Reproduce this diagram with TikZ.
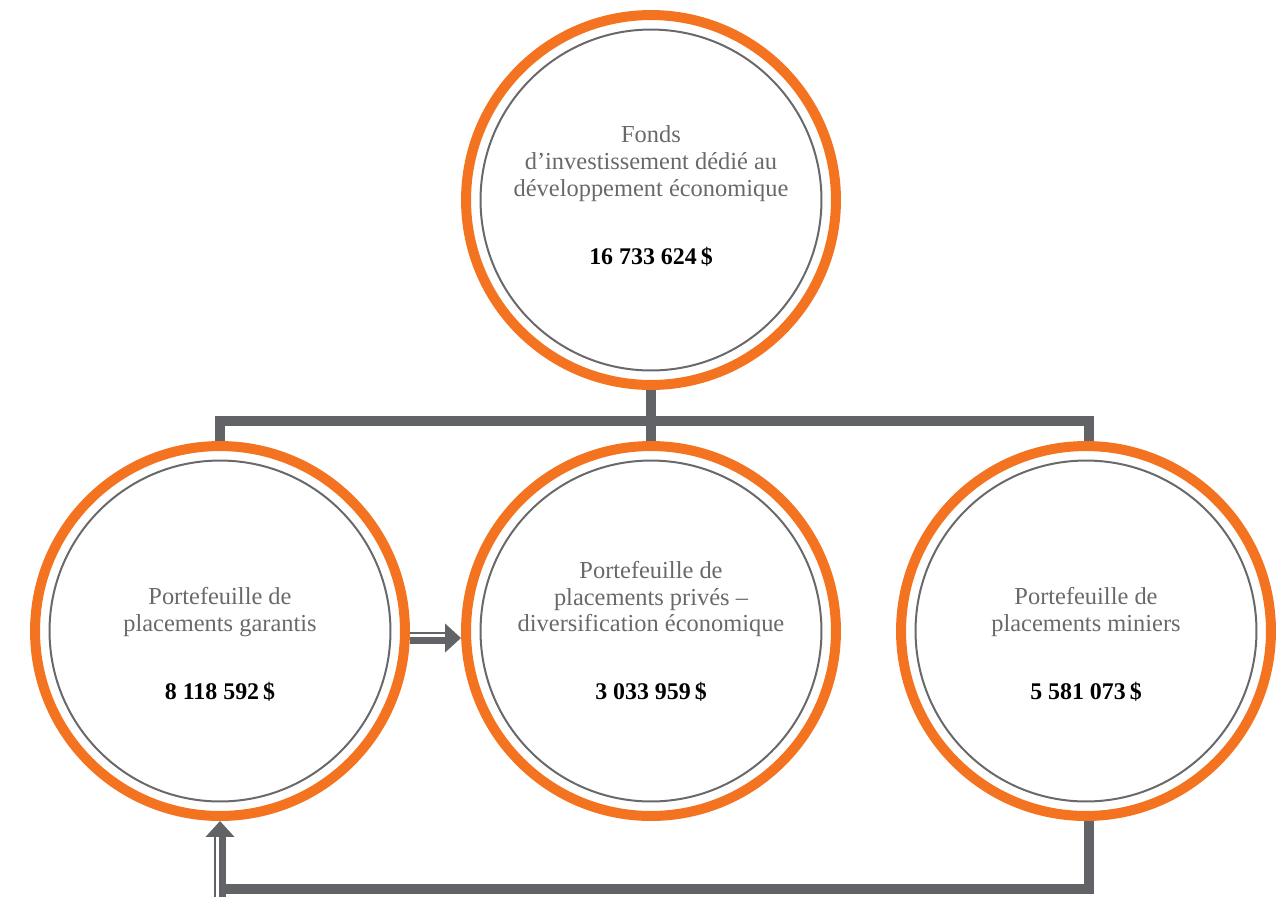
\documentclass[tikz,border=0pt]{standalone}
\usepackage{fontspec}
\setmainfont{Liberation Serif}
\usetikzlibrary{arrows.meta}
\definecolor{orangeFD}{RGB}{244,115,33}
\definecolor{grisLigne}{RGB}{98,99,102}
\definecolor{grisTexte}{RGB}{105,105,108}

\begin{document}
\begin{tikzpicture}[x=0.02cm,y=-0.02cm,
  anneau/.style={circle,draw=orangeFD,line width=0.2cm,minimum size=7.4cm,inner sep=0pt},
  cercle/.style={circle,draw=grisTexte,line width=0.04cm,minimum size=6.82cm,inner sep=0pt},
  titre/.style={align=center,text=grisTexte,font=\fontsize{13.9}{15.3}\selectfont},
  montant/.style={font=\fontsize{13.6}{15.3}\selectfont\bfseries},
  lien/.style={draw=grisLigne,line width=0.2cm},
  fleche/.style={draw=grisLigne,line width=0.23cm,-{Triangle[width=0.56cm,length=0.32cm]}},
  filet/.style={draw=white,line width=0.06cm}]
        \useasboundingbox (0,0) rectangle (1285,897);
        % cercles
        \node[anneau] (fonds) at (651,200){};
        \node[cercle] (fonds-in) at (651,200){};
        \node[anneau] (garantis) at (220,631){};
        \node[cercle] (garantis-in) at (220,631){};
        \node[anneau] (prive) at (651,631){};
        \node[cercle] (prive-in) at (651,631){};
        \node[anneau] (miniers) at (1086,631){};
        \node[cercle] (miniers-in) at (1086,631){};
        % textes
        \node[titre] (fonds-t) at (651,164){Fonds\\d’investissement dédié au\\développement économique};
        \node[montant] (fonds-m) at (651,257){16~733~624\,\$};
        \node[titre] (garantis-t) at (220,612){Portefeuille de\\placements garantis};
        \node[montant] (garantis-m) at (220,692){8~118~592\,\$};
        \node[titre] (prive-t) at (651,599){Portefeuille de\\placements privés –\\diversification économique};
        \node[montant] (prive-m) at (651,692){3~033~959\,\$};
        \node[titre] (miniers-t) at (1086,612){Portefeuille de\\placements miniers};
        \node[montant] (miniers-m) at (1086,692){5~581~073\,\$};
        % liens
        \coordinate (noeud) at (651,421);
        \coordinate (retour) at (220,889);
        \coordinate (bas) at (220,897);
        \draw[lien] (fonds.south) -- (prive.north);
        \draw[lien] (garantis.north) |- (noeud) -| ([xshift=0.06cm]miniers.north);
        \draw[lien] ([xshift=0.06cm]miniers.south) |- (retour);
        \draw[fleche] (bas) -- (garantis.south);
        \draw[filet] ([xshift=-0.05cm]bas) -- ([xshift=-0.05cm,yshift=-0.32cm]garantis.south);
        \draw[fleche] ([yshift=-0.14cm]garantis.east) -- ([yshift=-0.14cm]prive.west);
        \draw[filet] ([yshift=-0.09cm]garantis.east) -- ([xshift=-0.32cm,yshift=-0.09cm]prive.west);
\end{tikzpicture}
\end{document}
